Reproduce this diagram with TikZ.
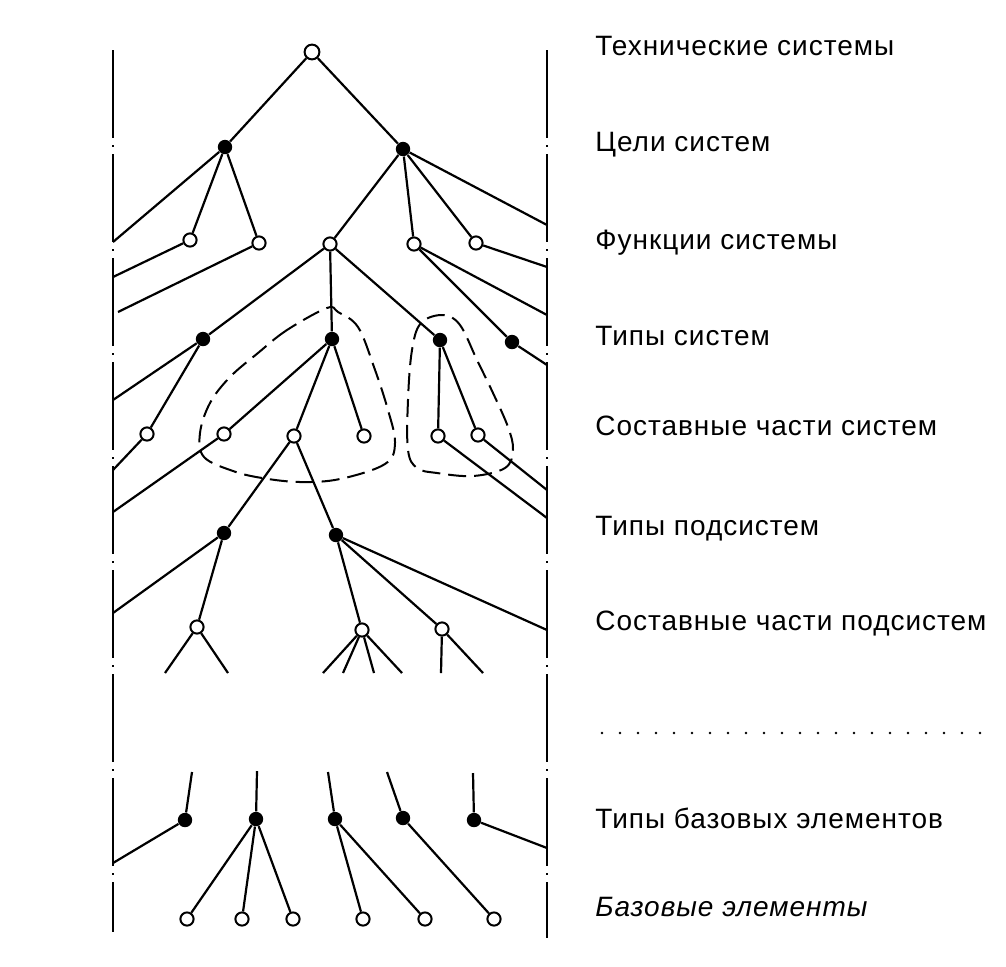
\documentclass[tikz,border=0pt]{standalone}
\usepackage{fontspec}
\setmainfont{Liberation Sans}[LetterSpace=3.5]
\begin{document}
\begin{tikzpicture}[x=0.5pt,y=-0.5pt,
  onode/.style={circle,draw,fill=white,line width=1pt,inner sep=0pt,minimum size=6.6pt},
  topnode/.style={onode,minimum size=7.4pt},
  fnode/.style={circle,fill=black,inner sep=0pt,minimum size=7.2pt},
  edge/.style={line width=1.1pt},
  border/.style={line width=1.35pt,dash pattern=on 44pt off 3.5pt on 1pt off 3.5pt},
  hull/.style={line width=1pt,dash pattern=on 9pt off 4pt},
  lab/.style={anchor=base west,inner sep=0pt,font=\fontsize{14}{17}\selectfont},
  dotline/.style={line width=1.4pt,line cap=round,dash pattern=on 0pt off 9pt}]
\useasboundingbox (0,0) rectangle (1006,966);

% borders
\coordinate (LT) at (113,50);  \coordinate (LB) at (113,932);
\coordinate (RT) at (547,50);  \coordinate (RB) at (547,938);
\draw[border] (LT) -- (LB);
\draw[border] (RT) -- (RB);

% dashed hulls
\draw[hull] plot[smooth cycle,tension=0.6] coordinates {(327,308) (287,330) (258,353) (230,377) (210,403) (200,433) (204,457) (233,471) (262,478) (300,482) (340,479) (385,464) (395,443) (388,410) (374,367) (358,327) (338,312)};
\draw[hull] plot[smooth cycle,tension=0.6] coordinates {(443,315) (421,323) (412,350) (408,400) (408,450) (417,468) (437,473) (473,476) (505,468) (513,450) (508,427) (493,393) (477,360) (460,325)};

% nodes
\node[topnode] (t) at (312,52) {};
\node[fnode] (a1) at (225,147) {};
\node[fnode] (a2) at (403,149) {};
\node[onode] (b1) at (190,240) {};
\node[onode] (b2) at (259,243) {};
\node[onode] (b3) at (330,244) {};
\node[onode] (b4) at (414,244) {};
\node[onode] (b5) at (476,243) {};
\node[fnode] (c1) at (203,339) {};
\node[fnode] (c2) at (332,339) {};
\node[fnode] (c3) at (440,340) {};
\node[fnode] (c4) at (512,342) {};
\node[onode] (d1) at (147,434) {};
\node[onode] (d2) at (224,434) {};
\node[onode] (d3) at (294,436) {};
\node[onode] (d4) at (364,436) {};
\node[onode] (d5) at (438,436) {};
\node[onode] (d6) at (478,435) {};
\node[fnode] (e1) at (224,533) {};
\node[fnode] (e2) at (336,535) {};
\node[onode] (f1) at (197,627) {};
\node[onode] (f2) at (362,630) {};
\node[onode] (f3) at (442,629) {};
\node[fnode] (g1) at (185,820) {};
\node[fnode] (g2) at (256,819) {};
\node[fnode] (g3) at (335,819) {};
\node[fnode] (g4) at (403,818) {};
\node[fnode] (g5) at (474,820) {};
\node[onode] (h1) at (187,919) {};
\node[onode] (h2) at (242,919) {};
\node[onode] (h3) at (293,919) {};
\node[onode] (h4) at (363,919) {};
\node[onode] (h5) at (425,919) {};
\node[onode] (h6) at (494,919) {};

% free ends
\coordinate (la1) at (113,242);
\coordinate (ra2) at (547,225);
\coordinate (lb1) at (113,277);
\coordinate (lb2) at (118,312);
\coordinate (rb4) at (547,315);
\coordinate (rb5) at (547,267);
\coordinate (lc1) at (113,400);
\coordinate (rc4) at (547,365);
\coordinate (ld1) at (113,470);
\coordinate (ld2) at (113,512);
\coordinate (rd5) at (547,518);
\coordinate (rd6) at (547,490);
\coordinate (le1) at (113,613);
\coordinate (re2) at (547,630);
\coordinate (sf1a) at (165,673); \coordinate (sf1b) at (228,673);
\coordinate (sf2a) at (323,673); \coordinate (sf2b) at (343,673);
\coordinate (sf2c) at (374,673); \coordinate (sf2d) at (402,673);
\coordinate (sf3a) at (441,673); \coordinate (sf3b) at (483,673);
\coordinate (ug1) at (192,772); \coordinate (ug2) at (257,771);
\coordinate (ug3) at (328,772); \coordinate (ug4) at (387,772);
\coordinate (ug5) at (473,773);
\coordinate (lg1) at (113,863);
\coordinate (rg5) at (547,848);

% edges
\begin{scope}[edge]
\draw (t) -- (a1); \draw (t) -- (a2);
\draw (a1) -- (b1); \draw (a1) -- (b2); \draw (a1) -- (la1);
\draw (a2) -- (b3); \draw (a2) -- (b4); \draw (a2) -- (b5); \draw (a2) -- (ra2);
\draw (b1) -- (lb1); \draw (b2) -- (lb2);
\draw (b3) -- (c1); \draw (b3) -- (c2); \draw (b3) -- (c3);
\draw (b4) -- (c4); \draw (b4) -- (rb4); \draw (b5) -- (rb5);
\draw (c1) -- (d1); \draw (c1) -- (lc1);
\draw (c2) -- (d2); \draw (c2) -- (d3); \draw (c2) -- (d4);
\draw (c3) -- (d5); \draw (c3) -- (d6);
\draw (c4) -- (rc4);
\draw (d1) -- (ld1); \draw (d2) -- (ld2);
\draw (d3) -- (e1); \draw (d3) -- (e2);
\draw (d5) -- (rd5); \draw (d6) -- (rd6);
\draw (e1) -- (le1); \draw (e1) -- (f1);
\draw (e2) -- (f2); \draw (e2) -- (f3); \draw (e2) -- (re2);
\draw (f1) -- (sf1a); \draw (f1) -- (sf1b);
\draw (f2) -- (sf2a); \draw (f2) -- (sf2b); \draw (f2) -- (sf2c); \draw (f2) -- (sf2d);
\draw (f3) -- (sf3a); \draw (f3) -- (sf3b);
\draw (ug1) -- (g1); \draw (ug2) -- (g2); \draw (ug3) -- (g3);
\draw (ug4) -- (g4); \draw (ug5) -- (g5);
\draw (g1) -- (lg1);
\draw (g2) -- (h1); \draw (g2) -- (h2); \draw (g2) -- (h3);
\draw (g3) -- (h4); \draw (g3) -- (h5);
\draw (g4) -- (h6);
\draw (g5) -- (rg5);
\end{scope}

% labels
\node[lab] (l1) at (595,55)  {Технические системы};
\node[lab] (l2) at (595,151) {Цели систем};
\node[lab] (l3) at (595,249) {Функции системы};
\node[lab] (l4) at (595,345) {Типы систем};
\node[lab] (l5) at (595,435) {Составные части систем};
\node[lab] (l6) at (595,535) {Типы подсистем};
\node[lab] (l7) at (595,630) {Составные части подсистем};
\coordinate (dl1) at (602,733); \coordinate (dl2) at (985,733);
\draw[dotline] (dl1) -- (dl2);
\node[lab] (l8) at (595,828) {Типы базовых элементов};
\node[lab,font=\fontsize{14}{17}\selectfont\itshape] (l9) at (595,916) {Базовые элементы};
\end{tikzpicture}
\end{document}
